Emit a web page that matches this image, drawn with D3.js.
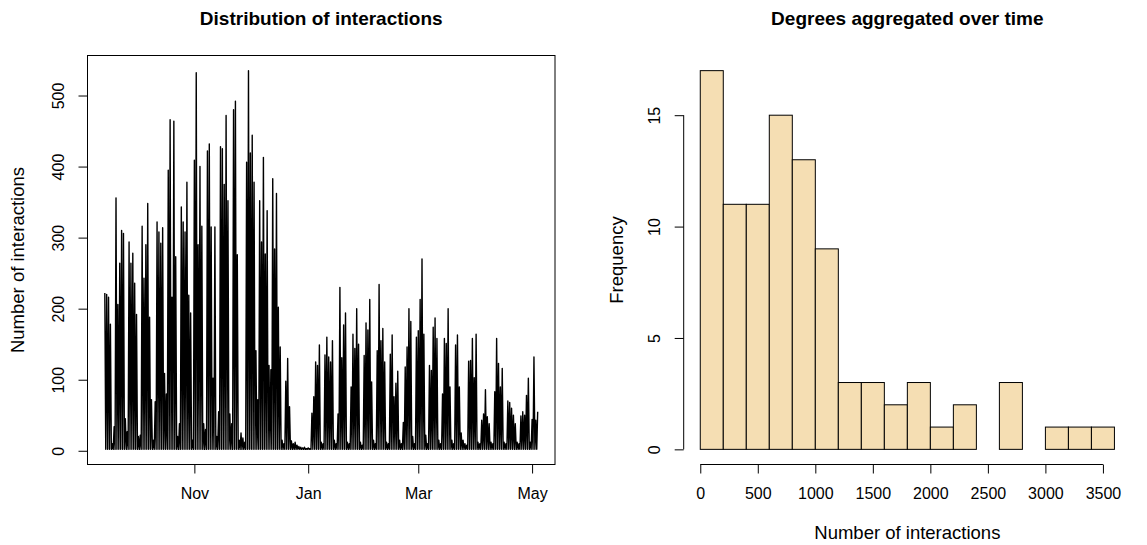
<!DOCTYPE html>
<html><head><meta charset="utf-8">
<script src="https://cdn.jsdelivr.net/npm/d3@7"></script>
<style>
body{margin:0;background:#fff}
text{font-family:"Liberation Sans",Arial,Helvetica,sans-serif;fill:#000}
</style>
</head><body>
<svg id="c" width="1147" height="545" style="background:#fff"></svg>
<script>
// ---------- Left chart data: daily peak number of interactions ----------
const startDate = new Date(2010, 8, 14);
const dailyPeaks = [
  222, 220, 216, 178, 10, 34,
  356, 206, 264, 310, 306, 45, 27,
  294, 264, 278, 236, 192, 20, 22,
  316, 243, 290, 348, 188, 72, 15,
  69, 322, 308, 292, 314, 109, 80,
  395, 466, 216, 464, 273, 20, 38,
  343, 322, 308, 378, 219, 194, 15,
  409, 532, 290, 400, 316, 38, 30,
  422, 432, 315, 102, 315, 20, 55,
  428, 425, 375, 472, 352, 52, 38,
  480, 492, 276, 15, 25, 18, 12,
  406, 535, 419, 444, 378, 141, 72,
  352, 294, 413, 277, 338, 120, 114,
  383, 284, 362, 202, 146, 15, 10,
  98, 130, 62, 14, 10, 12, 8,
  6, 5, 4, 5, 3, 4, 3,
  53, 76, 125, 120, 149, 12, 10,
  135, 160, 132, 125, 155, 15, 10,
  52, 230, 131, 177, 194, 12, 10,
  90, 164, 144, 200, 150, 12, 8,
  134, 180, 170, 213, 97, 15, 10,
  141, 234, 155, 172, 125, 12, 10,
  136, 163, 76, 95, 112, 15, 10,
  40, 118, 146, 200, 182, 20, 10,
  160, 169, 213, 270, 164, 22, 10,
  120, 113, 174, 187, 158, 15, 10,
  80, 158, 151, 200, 90, 15, 10,
  149, 163, 90, 25, 15, 10, 8,
  126, 127, 158, 103, 164, 12, 10,
  43, 52, 86, 48, 38, 12, 10,
  83, 158, 123, 90, 116, 12, 10,
  70, 68, 60, 50, 38, 12, 10,
  49, 55, 50, 78, 102, 12, 44,
  132, 43, 55
];
const nightLow = 2;
const dateTicks = [new Date(2010, 10, 1), new Date(2011, 0, 1), new Date(2011, 2, 1), new Date(2011, 4, 1)];
const dateTickLabels = ["Nov", "Jan", "Mar", "May"];
const yTicksLeft = [0, 100, 200, 300, 400, 500];

// ---------- Right chart data: histogram ----------
const binStarts = [0, 200, 400, 600, 800, 1000, 1200, 1400, 1600, 1800, 2000, 2200, 2400, 2600, 2800, 3000, 3200, 3400];
const binWidth = 200;
const counts = [17, 11, 11, 15, 13, 9, 3, 3, 2, 3, 1, 2, 0, 3, 0, 1, 1, 1];
const xTicksRight = [0, 500, 1000, 1500, 2000, 2500, 3000, 3500];
const yTicksRight = [0, 5, 10, 15];

const svg = d3.select("#c");
const TICK = 16, LAB = 18.5, MAIN = 19;

// ---------- Left chart ----------
const L = {x0: 87.5, x1: 555, y0: 55.5, y1: 464.5};
const pts = [];
dailyPeaks.forEach((v, i) => {
  const day = d3.timeDay.offset(startDate, i);
  if (i > 0) pts.push({t: d3.timeHour.offset(day, -12), v: nightLow});
  pts.push({t: day, v: v});
});
const tExt = d3.extent(pts, d => d.t);
const tPad = (tExt[1] - tExt[0]) * 0.04;
const xL = d3.scaleTime().domain([new Date(+tExt[0] - tPad), new Date(+tExt[1] + tPad)]).range([L.x0, L.x1]);
const vExt = d3.extent(pts, d => d.v);
const vPad = (vExt[1] - vExt[0]) * 0.04;
const yL = d3.scaleLinear().domain([vExt[0] - vPad, vExt[1] + vPad]).range([L.y1, L.y0]);

svg.append("path").datum(pts)
  .attr("d", d3.line().x(d => xL(d.t)).y(d => yL(d.v)))
  .attr("fill", "none").attr("stroke", "#000").attr("stroke-width", 1.4).attr("stroke-linejoin", "round");

svg.append("rect").attr("x", L.x0).attr("y", L.y0).attr("width", L.x1 - L.x0).attr("height", L.y1 - L.y0)
  .attr("fill", "none").attr("stroke", "#000").attr("stroke-width", 1);

const axLx = svg.append("g").attr("transform", `translate(0,${L.y1})`)
  .call(d3.axisBottom(xL).tickValues(dateTicks).tickFormat((d, i) => dateTickLabels[i]).tickSize(9).tickSizeOuter(0));
axLx.select(".domain").remove();
axLx.selectAll("text").attr("font-size", TICK).attr("y", 29).attr("dy", "0.35em").attr("font-family", null);
axLx.selectAll("line").attr("stroke", "#000");

const axLy = svg.append("g").attr("transform", `translate(${L.x0},0)`)
  .call(d3.axisLeft(yL).tickValues(yTicksLeft).tickSize(9).tickSizeOuter(0));
axLy.select(".domain").remove();
axLy.selectAll("line").attr("stroke", "#000");
axLy.selectAll("text").attr("font-size", TICK).attr("transform", "rotate(-90)")
  .attr("x", 0).attr("y", -29).attr("dy", "0.35em").attr("text-anchor", "middle").attr("font-family", null);
svg.append("line").attr("x1", L.x0).attr("x2", L.x0).attr("y1", yL(0)).attr("y2", yL(500)).attr("stroke", "#000");

svg.append("text").attr("transform", `translate(${L.x0 - 70},${(L.y0 + L.y1) / 2}) rotate(-90)`)
  .attr("text-anchor", "middle").attr("dy", "0.35em").attr("font-size", LAB).text("Number of interactions");
svg.append("text").attr("x", (L.x0 + L.x1) / 2).attr("y", 18).attr("dy", "0.35em")
  .attr("text-anchor", "middle").attr("font-size", MAIN).attr("font-weight", "bold").text("Distribution of interactions");

// ---------- Right chart ----------
const R = {x0: 683.7, x1: 1131, y0: 55.5, y1: 464.5};
const xMax = binStarts[binStarts.length - 1] + binWidth;
const xPadR = xMax * 0.04;
const xR = d3.scaleLinear().domain([0 - xPadR, xMax + xPadR]).range([R.x0, R.x1]);
const cMax = d3.max(counts);
const yR = d3.scaleLinear().domain([-cMax * 0.04, cMax * 1.04]).range([R.y1, R.y0]);

svg.append("g").selectAll("rect").data(binStarts).join("rect")
  .attr("x", d => xR(d)).attr("width", d => xR(d + binWidth) - xR(d))
  .attr("y", (d, i) => yR(counts[i])).attr("height", (d, i) => yR(0) - yR(counts[i]))
  .attr("fill", "#F5DEB3").attr("stroke", "#000").attr("stroke-width", 1);

const axRx = svg.append("g").attr("transform", `translate(0,${R.y1})`)
  .call(d3.axisBottom(xR).tickValues(xTicksRight).tickFormat(d3.format("d")).tickSize(9).tickSizeOuter(0));
axRx.select(".domain").remove();
axRx.selectAll("line").attr("stroke", "#000");
axRx.selectAll("text").attr("font-size", TICK).attr("y", 29).attr("dy", "0.35em").attr("font-family", null);
svg.append("line").attr("x1", xR(0)).attr("x2", xR(3500)).attr("y1", R.y1).attr("y2", R.y1).attr("stroke", "#000");

const axRy = svg.append("g").attr("transform", `translate(${R.x0},0)`)
  .call(d3.axisLeft(yR).tickValues(yTicksRight).tickSize(9).tickSizeOuter(0));
axRy.select(".domain").remove();
axRy.selectAll("line").attr("stroke", "#000");
axRy.selectAll("text").attr("font-size", TICK).attr("transform", "rotate(-90)")
  .attr("x", 0).attr("y", -29).attr("dy", "0.35em").attr("text-anchor", "middle").attr("font-family", null);
svg.append("line").attr("x1", R.x0).attr("x2", R.x0).attr("y1", yR(0)).attr("y2", yR(15)).attr("stroke", "#000");

svg.append("text").attr("x", (R.x0 + R.x1) / 2).attr("y", R.y1 + 68).attr("dy", "0.35em")
  .attr("text-anchor", "middle").attr("font-size", LAB).text("Number of interactions");
svg.append("text").attr("transform", `translate(${R.x0 - 67},${(R.y0 + R.y1) / 2}) rotate(-90)`)
  .attr("text-anchor", "middle").attr("dy", "0.35em").attr("font-size", LAB).text("Frequency");
svg.append("text").attr("x", (R.x0 + R.x1) / 2).attr("y", 18).attr("dy", "0.35em")
  .attr("text-anchor", "middle").attr("font-size", MAIN).attr("font-weight", "bold").text("Degrees aggregated over time");
</script>
</body></html>
